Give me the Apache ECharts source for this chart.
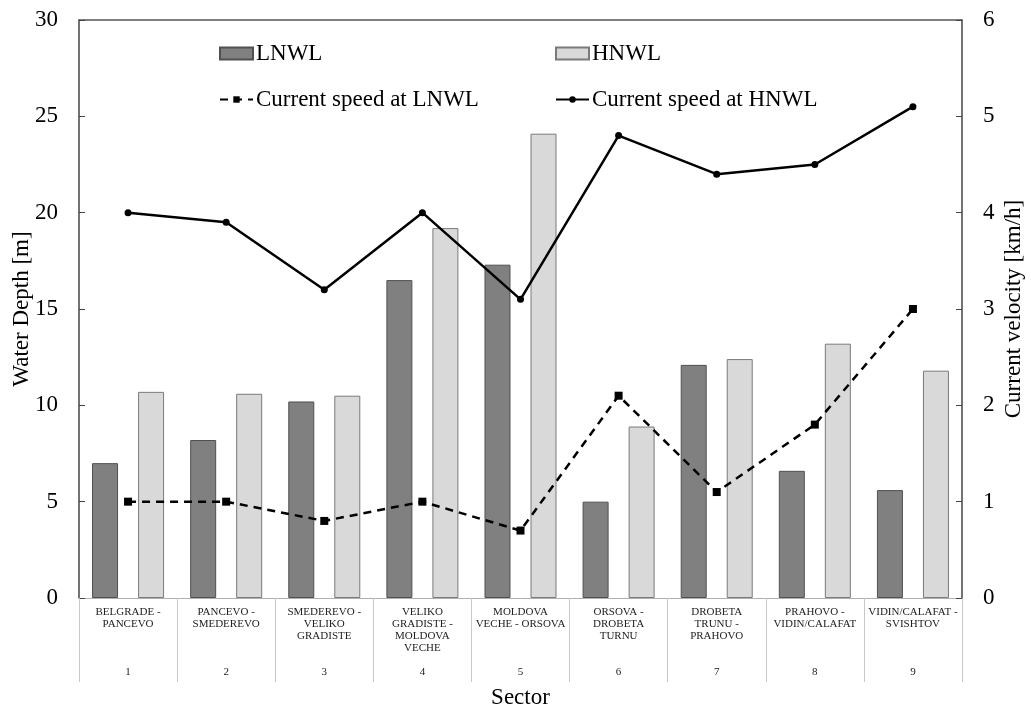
<!DOCTYPE html>
<html>
<head>
<meta charset="utf-8">
<script src="https://cdn.jsdelivr.net/npm/echarts@6/dist/echarts.min.js"></script>
<style>html,body{margin:0;padding:0;background:#fff;}#c{width:1031px;height:709px;}</style>
</head>
<body>
<div id="c"></div>
<script>
const sectors = ["BELGRADE -\nPANCEVO", "PANCEVO -\nSMEDEREVO", "SMEDEREVO -\nVELIKO\nGRADISTE", "VELIKO\nGRADISTE -\nMOLDOVA\nVECHE", "MOLDOVA\nVECHE - ORSOVA", "ORSOVA -\nDROBETA\nTURNU", "DROBETA\nTRUNU -\nPRAHOVO", "PRAHOVO -\nVIDIN/CALAFAT", "VIDIN/CALAFAT -\nSVISHTOV"];
const sectorNumbers = ["1", "2", "3", "4", "5", "6", "7", "8", "9"];
const depthLNWL = [7.0, 8.2, 10.2, 16.5, 17.3, 5.0, 12.1, 6.6, 5.6];
const depthHNWL = [10.7, 10.6, 10.5, 19.2, 24.1, 8.9, 12.4, 13.2, 11.8];
const speedLNWL = [1.0, 1.0, 0.8, 1.0, 0.7, 2.1, 1.1, 1.8, 3.0];
const speedHNWL = [4.0, 3.9, 3.2, 4.0, 3.1, 4.8, 4.4, 4.5, 5.1];

const FONT = "'Liberation Serif', 'Times New Roman', serif";
const chart = echarts.init(document.getElementById('c'), null, {renderer: 'canvas'});

function legendItem(name, left, top, isBar) {
  const l = {
    data: [name], left: left, top: top, padding: 0,
    itemWidth: 33, itemHeight: isBar ? 12 : 8, itemGap: 0,
    textStyle: {fontFamily: FONT, fontSize: 23, color: '#000', padding: [0, 0, 0, -2]},
    selectedMode: false
  };
  if (isBar) l.icon = 'rect';
  return l;
}

chart.setOption({
  animation: false,
  backgroundColor: '#fff',
  textStyle: {fontFamily: FONT},
  grid: {left: 79, right: 69, top: 20, bottom: 111, containLabel: false, outerBoundsMode: 'none'},
  legend: [
    legendItem('LNWL', 219, 42, true),
    legendItem('HNWL', 555, 42, true),
    legendItem('Current speed at LNWL', 219, 88, false),
    legendItem('Current speed at HNWL', 555, 88, false)
  ],
  xAxis: [{
    type: 'category',
    data: sectors,
    position: 'bottom',
    name: 'Sector',
    nameLocation: 'middle',
    nameGap: 88,
    nameTextStyle: {fontFamily: FONT, fontSize: 23, color: '#000'},
    axisLine: {onZero: false, lineStyle: {color: '#b0b0b0', width: 1}},
    axisTick: {show: true, length: 84, lineStyle: {color: '#c8c8c8', width: 1}},
    axisLabel: {
      interval: 0,
      margin: 8,
      fontFamily: FONT,
      fontSize: 11,
      lineHeight: 12,
      color: '#222',
      formatter: function (v, i) {
        const lines = v.split('\n');
        while (lines.length < 5) lines.push('');
        lines.push(sectorNumbers[i]);
        return lines.join('\n');
      }
    }
  }, {
    type: 'category',
    data: sectors,
    position: 'top',
    axisLine: {show: true, onZero: false, lineStyle: {color: '#555', width: 1.5}},
    axisTick: {show: false},
    axisLabel: {show: false}
  }],
  yAxis: [{
    type: 'value',
    min: 0, max: 30, interval: 5,
    position: 'left',
    name: 'Water Depth [m]',
    nameLocation: 'middle',
    nameGap: 46,
    nameMoveOverlap: false,
    nameTextStyle: {fontFamily: FONT, fontSize: 23, color: '#000'},
    axisLine: {show: true, lineStyle: {color: '#444', width: 1.5}},
    axisTick: {show: true, inside: true, length: 6, lineStyle: {color: '#444'}},
    axisLabel: {fontFamily: FONT, fontSize: 23, color: '#000', margin: 21},
    splitLine: {show: false}
  }, {
    type: 'value',
    min: 0, max: 6, interval: 1,
    position: 'right',
    name: 'Current velocity [km/h]',
    nameLocation: 'middle',
    nameGap: 40,
    nameMoveOverlap: false,
    nameRotate: 90,
    nameTextStyle: {fontFamily: FONT, fontSize: 23, color: '#000'},
    axisLine: {show: true, lineStyle: {color: '#444', width: 1.5}},
    axisTick: {show: true, inside: true, length: 6, lineStyle: {color: '#444'}},
    axisLabel: {fontFamily: FONT, fontSize: 23, color: '#000', margin: 21},
    splitLine: {show: false}
  }],
  series: [{
    name: 'LNWL', type: 'bar', data: depthLNWL,
    xAxisIndex: 0, yAxisIndex: 0,
    barWidth: 26, barGap: '77%',
    itemStyle: {color: '#808080', borderColor: '#505050', borderWidth: 1}
  }, {
    name: 'HNWL', type: 'bar', data: depthHNWL,
    xAxisIndex: 0, yAxisIndex: 0,
    barWidth: 26, barGap: '77%',
    itemStyle: {color: '#d9d9d9', borderColor: '#7a7a7a', borderWidth: 1}
  }, {
    name: 'Current speed at LNWL', type: 'line', data: speedLNWL,
    xAxisIndex: 0, yAxisIndex: 1,
    symbol: 'rect', symbolSize: 8,
    lineStyle: {color: '#000', width: 2.5, type: [8, 6]},
    itemStyle: {color: '#000'},
    z: 5
  }, {
    name: 'Current speed at HNWL', type: 'line', data: speedHNWL,
    xAxisIndex: 0, yAxisIndex: 1,
    symbol: 'circle', symbolSize: 7,
    lineStyle: {color: '#000', width: 2.5, type: 'solid'},
    itemStyle: {color: '#000'},
    z: 5
  }]
});
</script>
</body>
</html>
